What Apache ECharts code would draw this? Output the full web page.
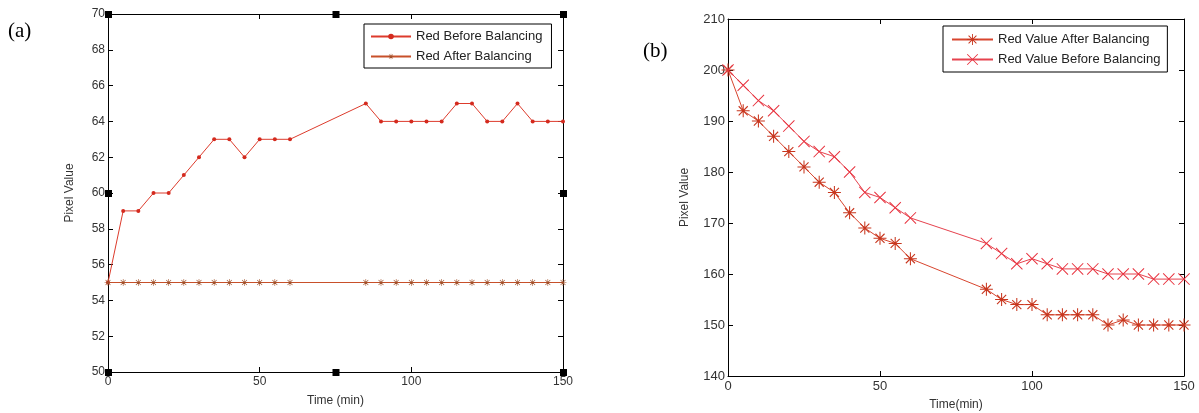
<!DOCTYPE html>
<html>
<head>
<meta charset="utf-8">
<script src="https://cdn.jsdelivr.net/npm/echarts@6/dist/echarts.min.js"></script>
<style>
  html, body { margin: 0; padding: 0; background: #fff; }
  #main { width: 1199px; height: 413px; }
</style>
</head>
<body>
<div id="main"></div>
<script>
// sampling times (min), same for both panels
const timeA = [0, 5, 10, 15, 20, 25, 30, 35, 40, 45, 50, 55, 60, 85, 90, 95, 100, 105, 110, 115, 120, 125, 130, 135, 140, 145, 150];
const timeB = [0, 5, 10, 15, 20, 25, 30, 35, 40, 45, 50, 55, 60, 85, 90, 95, 100, 105, 110, 115, 120, 125, 130, 135, 140, 145, 150];

// (a)
const redBeforeA = [55, 59, 59, 60, 60, 61, 62, 63, 63, 62, 63, 63, 63, 65, 64, 64, 64, 64, 64, 65, 65, 64, 64, 65, 64, 64, 64];
const redAfterA = [55, 55, 55, 55, 55, 55, 55, 55, 55, 55, 55, 55, 55, 55, 55, 55, 55, 55, 55, 55, 55, 55, 55, 55, 55, 55, 55];

// (b)
const redAfterB = [200, 192, 190, 187, 184, 181, 178, 176, 172, 169, 167, 166, 163, 157, 155, 154, 154, 152, 152, 152, 152, 150, 151, 150, 150, 150, 150];
const redBeforeB = [200, 197, 194, 192, 189, 186, 184, 183, 180, 176, 175, 173, 171, 166, 164, 162, 163, 162, 161, 161, 161, 160, 160, 160, 159, 159, 159];

const xTicks = [0, 50, 100, 150];
const yTicksA = [50, 70, 2];
const yTicksB = [140, 210, 10];

// marker shapes (matlab style '*' and 'x')
const STAR = 'path://M4.6 0H5.4V10H4.6Z M0 4.6H10V5.4H0Z M1.2 1.8L1.8 1.2L8.8 8.2L8.2 8.8Z M8.2 1.2L8.8 1.8L1.8 8.8L1.2 8.2Z';
const CROSS = 'path://M0.6 0L10 9.4L9.4 10L0 0.6Z M9.4 0L10 0.6L0.6 10L0 9.4Z';

function pairs(xs, ys) {
  return xs.map((x, i) => [x, ys[i]]);
}

const font = 'Liberation Sans, Arial, sans-serif';

function axisX(grid, pos, showLabel, size) {
  return {
    type: 'value', gridIndex: grid, position: pos,
    min: xTicks[0], max: xTicks[xTicks.length - 1], interval: 50,
    name: showLabel ? (grid === 0 ? 'Time (min)' : 'Time(min)') : '',
    nameLocation: 'middle', nameGap: grid === 0 ? 23 : 23,
    nameTextStyle: { color: '#333', fontSize: 12, fontFamily: font },
    axisLine: { show: true, onZero: false, lineStyle: { color: '#000', width: 1 } },
    axisTick: { show: true, inside: true, length: 5, lineStyle: { color: '#000' } },
    axisLabel: { show: showLabel, color: '#333', fontSize: size, fontFamily: font, margin: 4 },
    splitLine: { show: false }
  };
}

function axisY(grid, pos, showLabel, t, size) {
  return {
    type: 'value', gridIndex: grid, position: pos,
    min: t[0], max: t[1], interval: t[2],
    name: showLabel ? 'Pixel Value' : '',
    nameLocation: 'middle', nameGap: grid === 0 ? 32 : 37,
    nameTextStyle: { color: '#333', fontSize: 12, fontFamily: font },
    axisLine: { show: true, onZero: false, lineStyle: { color: '#000', width: 1 } },
    axisTick: { show: true, inside: true, length: 5, lineStyle: { color: '#000' } },
    axisLabel: { show: showLabel, color: '#333', fontSize: size, fontFamily: font, margin: 3 },
    splitLine: { show: false }
  };
}

const chart = echarts.init(document.getElementById('main'));

chart.setOption({
  backgroundColor: '#fff',
  animation: false,
  title: [
    { text: '(a)', left: 8, top: 21, padding: 0,
      textStyle: { fontFamily: 'Liberation Serif, serif', fontSize: 21, fontWeight: 'normal', color: '#000' } },
    { text: '(b)', left: 643, top: 41, padding: 0,
      textStyle: { fontFamily: 'Liberation Serif, serif', fontSize: 21, fontWeight: 'normal', color: '#000' } }
  ],
  grid: [
    { left: 108, right: 636, top: 14, bottom: 41, outerBoundsMode: 'none' },
    { left: 728, right: 15, top: 19, bottom: 37, outerBoundsMode: 'none' }
  ],
  legend: [
    {
      data: ['Red Before Balancing', 'Red After Balancing'],
      orient: 'vertical', left: 364, top: 24,
      padding: [5, 9, 4, 6], itemGap: 5, itemWidth: 40, itemHeight: 7,
      borderColor: '#000', borderWidth: 1, backgroundColor: '#fff',
      textStyle: { color: '#222', fontSize: 13, fontFamily: font, lineHeight: 15 }
    },
    {
      data: ['Red Value After Balancing', 'Red Value Before Balancing'],
      orient: 'vertical', left: 943, top: 26,
      padding: [6, 7, 5, 8], itemGap: 5, itemWidth: 41, itemHeight: 14,
      borderColor: '#000', borderWidth: 1, backgroundColor: '#fff',
      textStyle: { color: '#222', fontSize: 13, fontFamily: font, lineHeight: 15 }
    }
  ],
  xAxis: [
    axisX(0, 'bottom', true, 12),
    axisX(0, 'top', false, 12),
    axisX(1, 'bottom', true, 13),
    axisX(1, 'top', false, 13)
  ],
  yAxis: [
    axisY(0, 'left', true, yTicksA, 12),
    axisY(0, 'right', false, yTicksA, 12),
    axisY(1, 'left', true, yTicksB, 13),
    axisY(1, 'right', false, yTicksB, 13)
  ],
  series: [
    {
      name: 'Red Before Balancing', type: 'line', xAxisIndex: 0, yAxisIndex: 0,
      data: pairs(timeA, redBeforeA),
      symbol: 'circle', symbolSize: 4,
      lineStyle: { color: '#dd3b2c', width: 1 },
      itemStyle: { color: '#d42a1e' }
    },
    {
      name: 'Red After Balancing', type: 'line', xAxisIndex: 0, yAxisIndex: 0,
      data: pairs(timeA, redAfterA),
      symbol: STAR, symbolSize: 7,
      lineStyle: { color: '#c8502a', width: 1 },
      itemStyle: { color: '#a0502a' }
    },
    {
      name: 'Red Value After Balancing', type: 'line', xAxisIndex: 2, yAxisIndex: 2,
      data: pairs(timeB, redAfterB),
      symbol: STAR, symbolSize: 13,
      lineStyle: { color: '#d8452e', width: 1 },
      itemStyle: { color: '#c8361e' }
    },
    {
      name: 'Red Value Before Balancing', type: 'line', xAxisIndex: 2, yAxisIndex: 2,
      data: pairs(timeB, redBeforeB),
      symbol: CROSS, symbolSize: 12,
      lineStyle: { color: '#e6424e', width: 1 },
      itemStyle: { color: '#e8323e' }
    }
  ]
});

// selection handles on panel (a) frame
const handleAt = [[0, 70], [75, 70], [150, 70], [0, 60], [150, 60], [0, 50], [75, 50], [150, 50]];
chart.setOption({
  graphic: handleAt.map(p => {
    const px = chart.convertToPixel({ gridIndex: 0 }, p);
    return { type: 'rect', shape: { x: px[0] - 3, y: px[1] - 3, width: 7, height: 7 }, style: { fill: '#000' }, z: 100 };
  })
});
</script>
</body>
</html>
